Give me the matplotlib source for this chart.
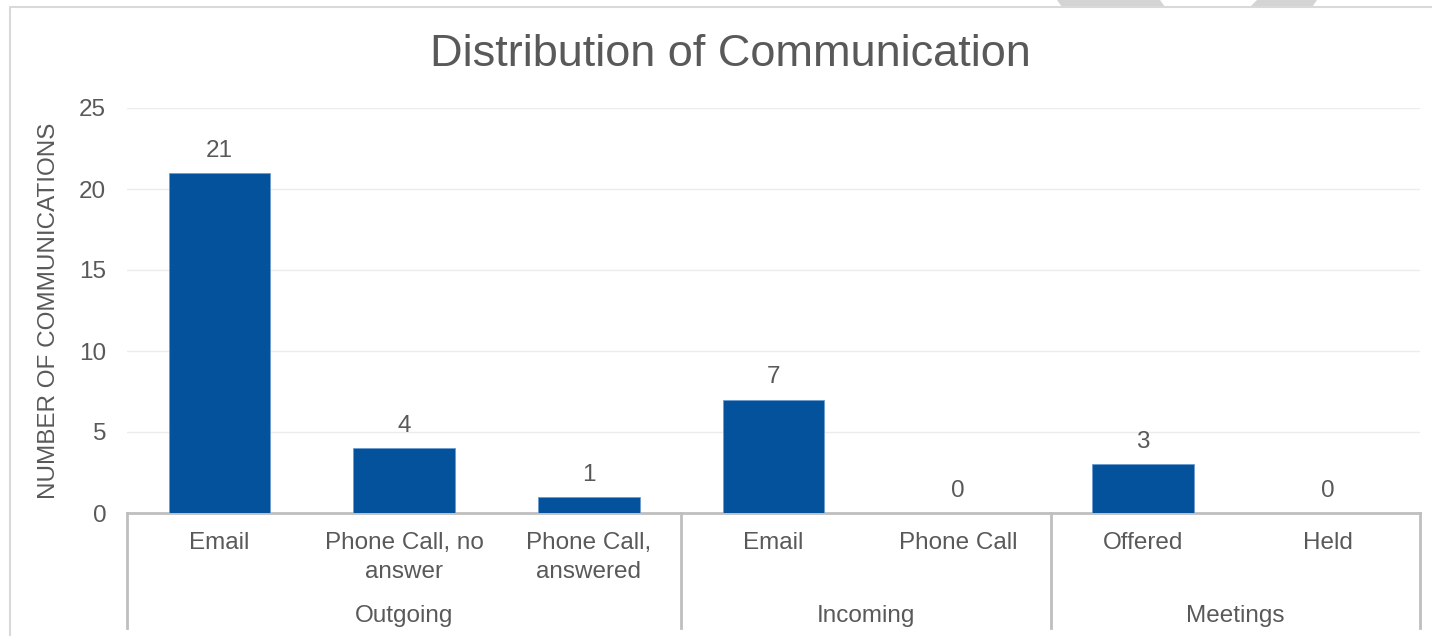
import matplotlib
matplotlib.use("Agg")
import matplotlib.pyplot as plt
from matplotlib.lines import Line2D
from matplotlib.patches import Polygon
import matplotlib.transforms as mtransforms

plt.rcParams["font.family"] = ["Liberation Sans", "DejaVu Sans"]

categories = ["Email", "Phone Call, no\nanswer", "Phone Call,\nanswered",
              "Email", "Phone Call", "Offered", "Held"]
values = [21, 4, 1, 7, 0, 3, 0]
groups = ["Outgoing", "Incoming", "Meetings"]
group_sizes = [3, 2, 2]
y_ticks = [0, 5, 10, 15, 20, 25]

W, H = 1432, 636
fig = plt.figure(figsize=(W / 100, H / 100), dpi=100)

text_c = "#595959"
bar_c = "#03529B"
fs = 17.5

# decorative frame and shapes at the top edge
fig.add_artist(Line2D([10 / W, 10 / W, 1.0], [0.0, 1 - 7 / H, 1 - 7 / H],
                      transform=fig.transFigure, color="#d9d9d9", lw=1.5))
for pts in ([(1057, 0), (1160, 0), (1165, 7), (1062, 7)],
            [(1257, 0), (1317, 0), (1312, 7), (1250, 7)]):
    fig.add_artist(Polygon([(x / W, 1 - y / H) for x, y in pts], closed=True,
                           transform=fig.transFigure, color="#d4d4d4", lw=0))

ax = fig.add_axes([127 / W, 1 - 513 / H, (1420 - 127) / W, (513 - 108) / H])
x = list(range(len(values)))
bars = ax.bar(x, values, width=0.55, color=bar_c, edgecolor="#6b9bd1",
              linewidth=0.6, zorder=3)
ax.set_xlim(-0.5, len(values) - 0.5)
ax.set_ylim(0, 25)
ax.set_yticks(y_ticks)
ax.tick_params(axis="y", length=0, labelsize=fs, labelcolor=text_c, pad=15)
ax.set_xticks([])
ax.grid(axis="y", color="#ececec", lw=1, zorder=0)
for s in ["top", "right", "left"]:
    ax.spines[s].set_visible(False)
ax.spines["bottom"].set_color("#bfbfbf")
ax.spines["bottom"].set_linewidth(2)

for xi, v in zip(x, values):
    ax.annotate(str(v), (xi, v), xytext=(0, 16), textcoords="offset points",
                ha="center", va="center", fontsize=fs, color=text_c)

trans = mtransforms.blended_transform_factory(ax.transData, ax.transAxes)
for xi, lab in zip(x, categories):
    ax.text(xi, -0.046, lab, transform=trans, ha="center", va="top",
            fontsize=fs, color=text_c, linespacing=1.45)

# group labels and separators
start = 0
edges = [-0.5]
for g, n in zip(groups, group_sizes):
    centre = start + (n - 1) / 2
    ax.text(centre, -0.254, g, transform=trans, ha="center", va="center",
            fontsize=fs, color=text_c)
    start += n
    edges.append(start - 0.5)
for e in edges:
    ax.add_line(Line2D([e, e], [0, -0.284], transform=trans, color="#bfbfbf",
                       lw=2, clip_on=False))

ax.set_ylabel("NUMBER OF COMMUNICATIONS", fontsize=fs, color=text_c)
ax.yaxis.set_label_coords(-0.052, 0.5)
fig.text(730 / W, 1 - 54 / H, "Distribution of Communication", ha="center",
         va="center", fontsize=32.5, color=text_c)

fig.savefig("out.png", dpi=100)
